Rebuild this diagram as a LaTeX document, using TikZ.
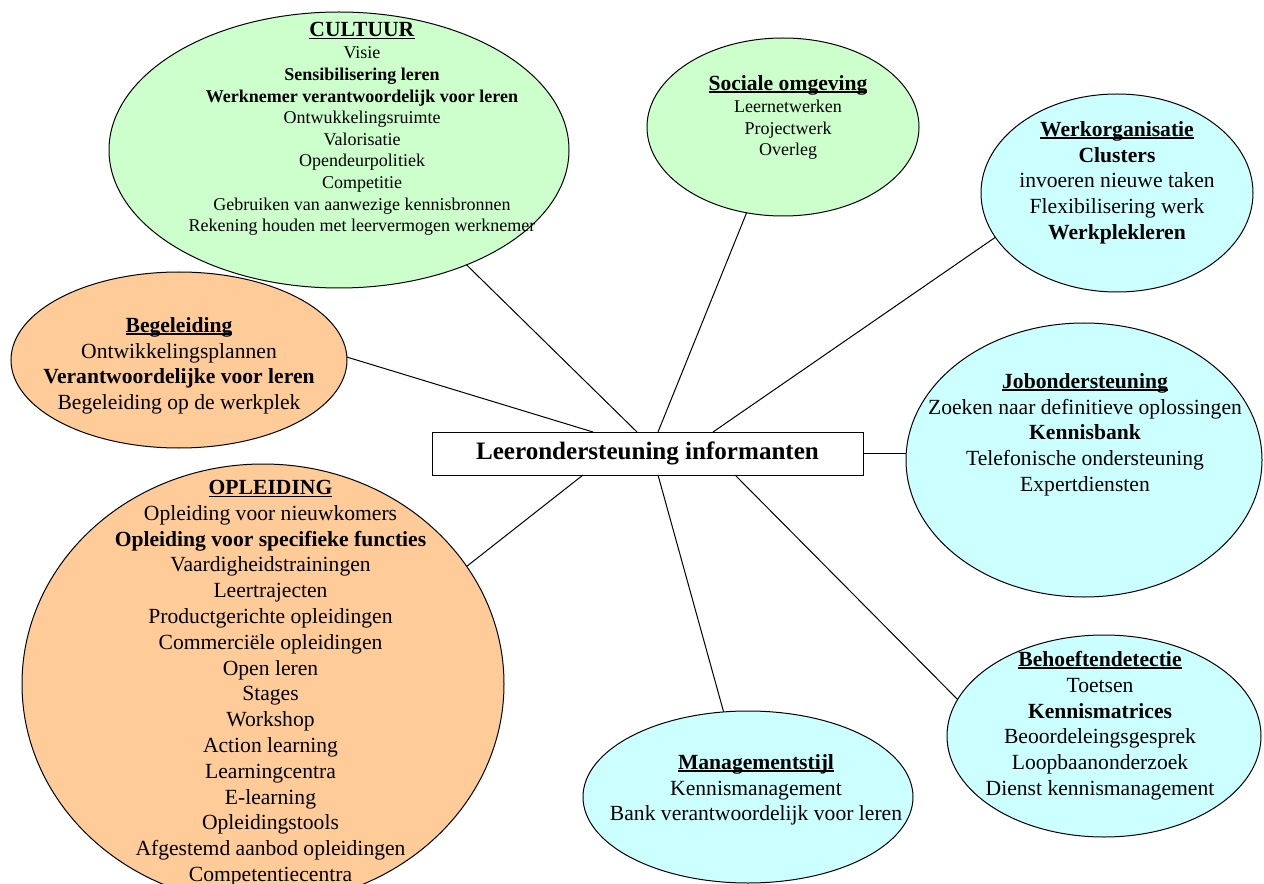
\documentclass[tikz,border=0pt]{standalone}
\usepackage{fontspec}
\setmainfont{Liberation Serif}
\usetikzlibrary{shapes.geometric,calc}
\definecolor{lgreen}{HTML}{CCFFCC}
\definecolor{lorange}{HTML}{FFCC99}
\definecolor{lcyan}{HTML}{CCFFFF}
\newsavebox{\ttlbox}
\newcommand{\ttl}[1]{\leavevmode\sbox{\ttlbox}{\textbf{#1}}\rlap{\rule[-0.11em]{\wd\ttlbox}{0.065em}}\usebox{\ttlbox}}
\tikzset{
  ell/.style={ellipse, draw=black, line width=0.75pt, inner sep=0pt, outer sep=0pt},
  txt/.style={align=center, inner sep=0pt, anchor=north, font=\fontsize{16.2}{19.35}\selectfont},
  smtxt/.style={align=center, inner sep=0pt, anchor=north, font=\fontsize{13.5}{16.2}\selectfont},
  conn/.style={line width=0.75pt, draw=black}
}
\begin{document}
\begin{tikzpicture}[x=0.75pt, y=-0.75pt]
\clip (0,0) rectangle (1264,884);
\fill[white] (0,0) rectangle (1264,884);

% ellipses
\node[ell, fill=lgreen, minimum width=345pt, minimum height=207pt] (cult) at (339,150) {};
\node[ell, fill=lgreen, minimum width=204pt, minimum height=133.5pt] (soc) at (783,127) {};
\node[ell, fill=lcyan, minimum width=204pt, minimum height=148.5pt] (werk) at (1117,193) {};
\node[ell, fill=lorange, minimum width=252pt, minimum height=132pt] (beg) at (179,360) {};
\node[ell, fill=lcyan, minimum width=267pt, minimum height=205.5pt] (job) at (1084,460) {};
\node[ell, fill=lorange, minimum width=361.5pt, minimum height=330pt] (opl) at (263,684) {};
\node[ell, fill=lcyan, minimum width=247.5pt, minimum height=129pt] (man) at (748,797) {};
\node[ell, fill=lcyan, minimum width=235.5pt, minimum height=151.5pt] (beh) at (1104,736) {};

% central box
\node[draw=black, line width=0.75pt, fill=white, minimum width=323.25pt, minimum height=32.25pt, inner sep=0pt, outer sep=0pt,
  font=\fontsize{18.8}{22}\selectfont\bfseries] (box) at (647.5,453.5) {Leerondersteuning informanten};

% texts
\node[smtxt] (tcult) at (362,22) {{\fontsize{16.2}{16.2}\selectfont\ttl{CULTUUR}}\\[0.5pt]
Visie\\
\textbf{Sensibilisering leren}\\
\textbf{Werknemer verantwoordelijk voor leren}\\
Ontwukkelingsruimte\\
Valorisatie\\
Opendeurpolitiek\\
Competitie\\
Gebruiken van aanwezige kennisbronnen\\
Rekening houden met leervermogen werknemer};

\node[smtxt] (tsoc) at (788,75) {{\fontsize{16.2}{16.2}\selectfont\ttl{Sociale omgeving}}\\[0.5pt]
Leernetwerken\\
Projectwerk\\
Overleg};

\node[txt] (twerk) at (1117,121) {\ttl{Werkorganisatie}\\
\textbf{Clusters}\\
invoeren nieuwe taken\\
Flexibilisering werk\\
\textbf{Werkplekleren}};

\node[txt] (tbeg) at (179,317) {\ttl{Begeleiding}\\
Ontwikkelingsplannen\\
\textbf{Verantwoordelijke voor leren}\\
Begeleiding op de werkplek};

\node[txt] (tjob) at (1085,373) {\ttl{Jobondersteuning}\\
Zoeken naar definitieve oplossingen\\
\textbf{Kennisbank}\\
Telefonische ondersteuning\\
Expertdiensten};

\node[txt] (topl) at (270.5,480) {\ttl{OPLEIDING}\\
Opleiding voor nieuwkomers\\
\textbf{Opleiding voor specifieke functies}\\
Vaardigheidstrainingen\\
Leertrajecten\\
Productgerichte opleidingen\\
Commerciële opleidingen\\
Open leren\\
Stages\\
Workshop\\
Action learning\\
Learningcentra\\
E-learning\\
Opleidingstools\\
Afgestemd aanbod opleidingen\\
Competentiecentra};

\node[txt] (tman) at (756,754) {\ttl{Managementstijl}\\
Kennismanagement\\
Bank verantwoordelijk voor leren};

\node[txt] (tbeh) at (1100,651) {\ttl{Behoeftendetectie}\\
Toetsen\\
\textbf{Kennismatrices}\\
Beoordeleingsgesprek\\
Loopbaanonderzoek\\
Dienst kennismanagement};

% connectors
\draw[conn] (cult.-42) -- ($(box.north west)+(205,0)$);
\draw[conn] (soc.-113) -- ($(box.north west)+(226,0)$);
\draw[conn] (werk.200) -- ($(box.north west)+(281,0)$);
\draw[conn] (beg.1) -- ($(box.north west)+(161,0)$);
\draw[conn] (box.east) -- (box.east -| job.west);
\draw[conn] (opl.30) -- ($(box.south west)+(151,0)$);
\draw[conn] (man.106) -- ($(box.south west)+(226,0)$);
\draw[conn] (beh.166) -- ($(box.south west)+(303,0)$);
\end{tikzpicture}
\end{document}
